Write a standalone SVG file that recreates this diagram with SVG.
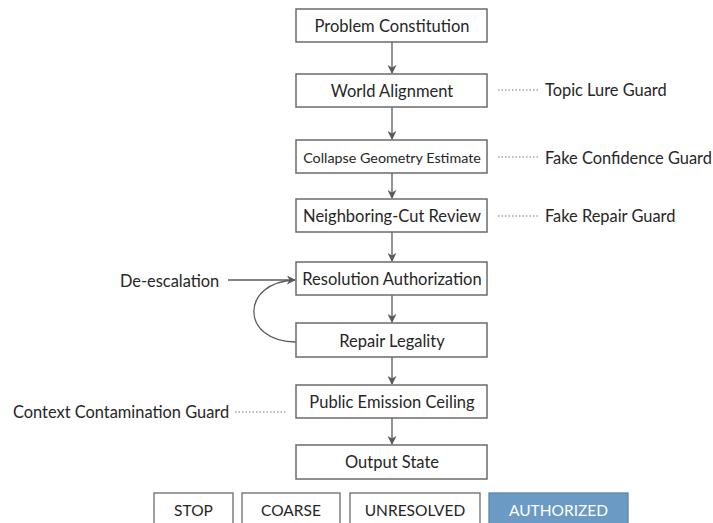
<svg xmlns="http://www.w3.org/2000/svg" width="713" height="523" viewBox="0 0 713 523">
<defs>
<style>
.box{fill:#fff;stroke:#6b6b6b;stroke-width:1.5}
.t{font-family:Lato,"Open Sans",sans-serif;font-size:16.5px;fill:#262626;text-anchor:middle;dominant-baseline:central}
.s{font-size:14.3px}
.g{font-family:Lato,"Open Sans",sans-serif;font-size:16.4px;fill:#262626;dominant-baseline:central}
.c{stroke:#5a5a5a;stroke-width:1.3;fill:none}
.d{stroke:#777;stroke-width:1;stroke-dasharray:1.5 2;fill:none}
.pill{fill:#fff;stroke:#6b6b6b;stroke-width:1.3}
.pa{fill:#6b9ac4;stroke:#5a86ad;stroke-width:1.3}
.p{font-family:Lato,"Open Sans",sans-serif;font-size:15.5px;fill:#262626;text-anchor:middle;dominant-baseline:central}
</style>
<marker id="ah" viewBox="0 0 10 10" refX="9" refY="5" markerWidth="9" markerHeight="9" markerUnits="userSpaceOnUse" orient="auto">
<path d="M0,0 L10,5 L0,10 L3,5 Z" fill="#5a5a5a"/>
</marker>
</defs>
<rect width="713" height="523" fill="#fff"/>
<g id="connectors">
<line class="c" x1="392" y1="42" x2="392" y2="73" marker-end="url(#ah)"/>
<line class="c" x1="392" y1="107" x2="392" y2="139" marker-end="url(#ah)"/>
<line class="c" x1="392" y1="173" x2="392" y2="198" marker-end="url(#ah)"/>
<line class="c" x1="392" y1="232" x2="392" y2="261" marker-end="url(#ah)"/>
<line class="c" x1="392" y1="295" x2="392" y2="322" marker-end="url(#ah)"/>
<line class="c" x1="392" y1="357" x2="392" y2="384" marker-end="url(#ah)"/>
<line class="c" x1="392" y1="418" x2="392" y2="444" marker-end="url(#ah)"/>
<line class="c" x1="228" y1="280" x2="295" y2="280" marker-end="url(#ah)"/>
<path class="c" d="M296,342 C240,342 240,282 295,280"/>
<line class="d" x1="498" y1="90" x2="538" y2="90"/>
<line class="d" x1="498" y1="157" x2="538" y2="157"/>
<line class="d" x1="498" y1="216" x2="538" y2="216"/>
<line class="d" x1="235" y1="412" x2="287" y2="412"/>
</g>
<g id="n1"><rect class="box" x="296" y="9" width="191" height="33"/><text class="t" x="392" y="26">Problem Constitution</text></g>
<g id="n2"><rect class="box" x="296" y="74" width="191" height="33"/><text class="t" x="392" y="91">World Alignment</text></g>
<g id="n3"><rect class="box" x="296" y="140" width="191" height="33"/><text class="t s" x="392" y="157">Collapse Geometry Estimate</text></g>
<g id="n4"><rect class="box" x="296" y="199" width="191" height="33"/><text class="t" x="392" y="216">Neighboring-Cut Review</text></g>
<g id="n5"><rect class="box" x="296" y="262" width="191" height="33"/><text class="t" x="392" y="279">Resolution Authorization</text></g>
<g id="n6"><rect class="box" x="296" y="323" width="191" height="34"/><text class="t" x="392" y="341">Repair Legality</text></g>
<g id="n7"><rect class="box" x="296" y="385" width="191" height="33"/><text class="t" x="392" y="402">Public Emission Ceiling</text></g>
<g id="n8"><rect class="box" x="296" y="445" width="191" height="34"/><text class="t" x="392" y="462">Output State</text></g>
<g id="g1"><text class="g" x="545" y="89">Topic Lure Guard</text></g>
<g id="g2"><text class="g" x="545" y="157">Fake Confidence Guard</text></g>
<g id="g3"><text class="g" x="545" y="215">Fake Repair Guard</text></g>
<g id="g4"><text class="g" x="120" y="280">De-escalation</text></g>
<g id="g5"><text class="g" x="13" y="411">Context Contamination Guard</text></g>
<g id="s1"><rect class="pill" x="154" y="493" width="79" height="40"/><text class="p" x="193.5" y="510">STOP</text></g>
<g id="s2"><rect class="pill" x="242" y="493" width="98" height="40"/><text class="p" x="291" y="510">COARSE</text></g>
<g id="s3"><rect class="pill" x="350" y="493" width="130" height="40"/><text class="p" x="415" y="510">UNRESOLVED</text></g>
<g id="s4"><rect class="pa" x="489" y="493" width="139" height="40"/><text class="p" x="558.5" y="510" style="fill:#fff">AUTHORIZED</text></g>
</svg>
